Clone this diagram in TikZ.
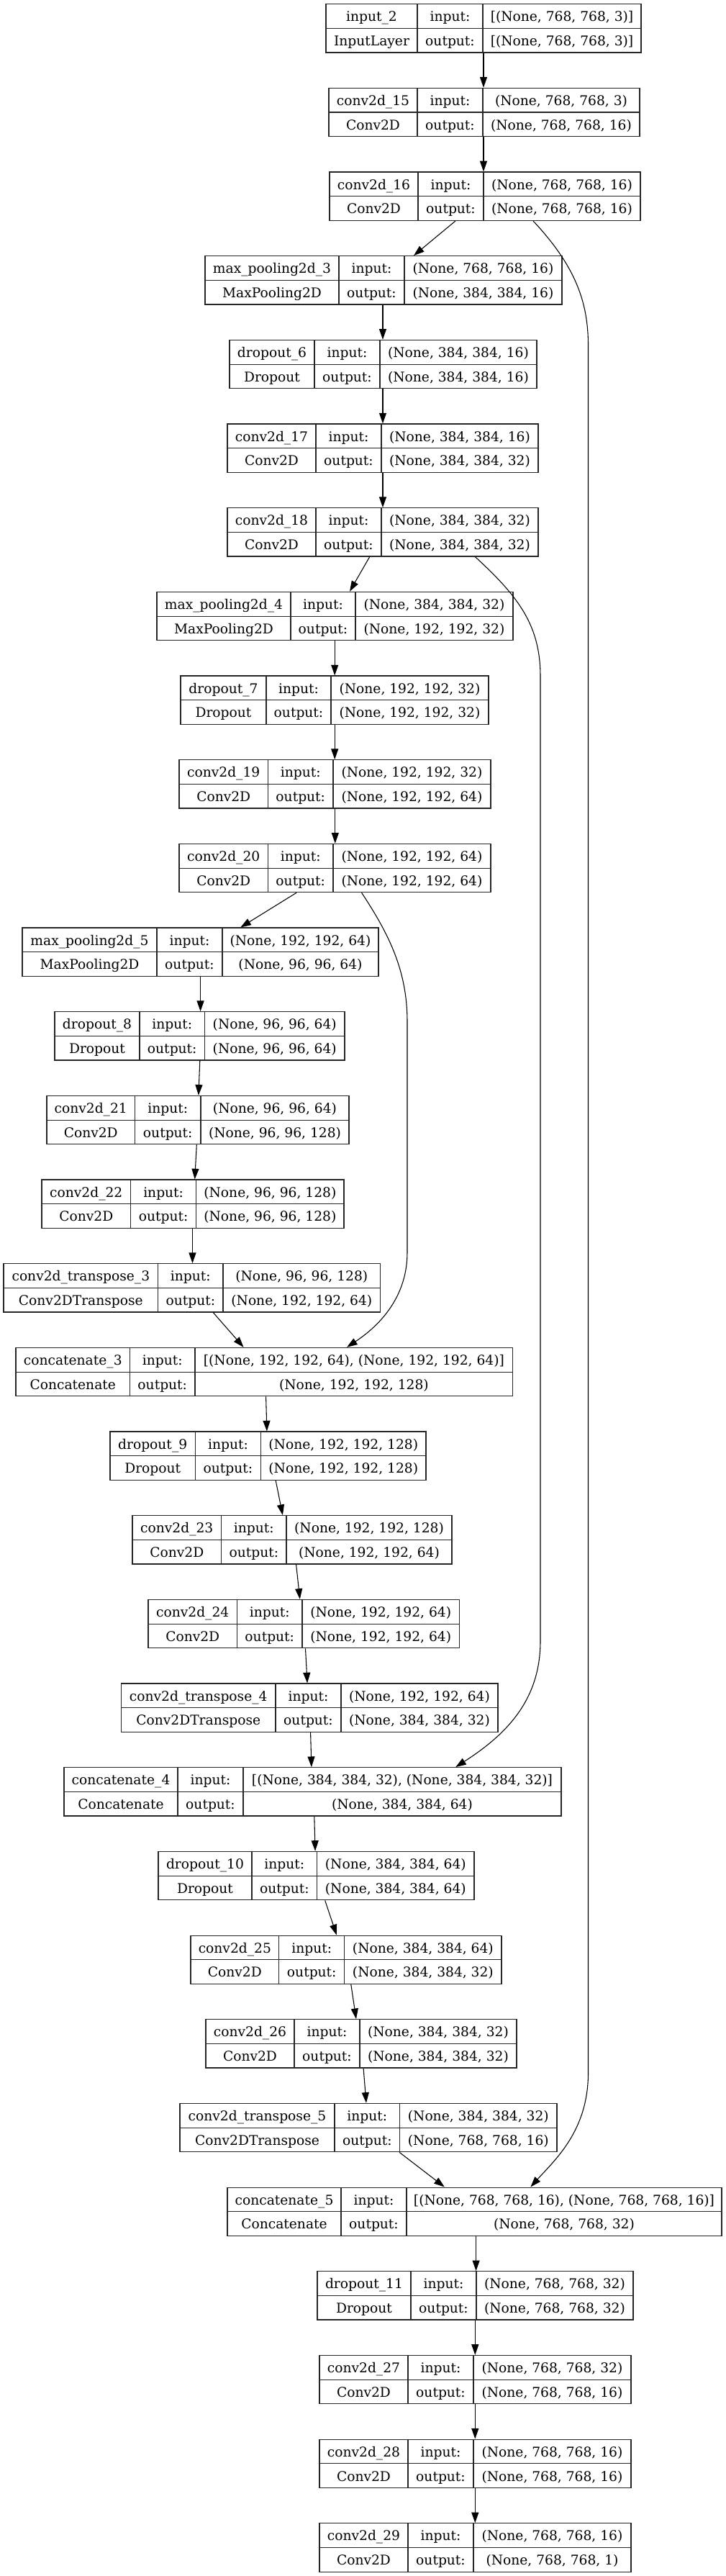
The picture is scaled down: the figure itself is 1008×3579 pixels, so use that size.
\documentclass[tikz,border=0pt]{standalone}
\usepackage{fontspec}
\setmainfont{DejaVu Serif}
\usetikzlibrary{arrows.meta,fit,calc}

% one layer table: id, row, left, divider 1, divider 2, right, name, type, input / output shape
\newcommand{\layer}[9]{%
  \def\lid{#1}\pgfmathsetmacro\ltop{5.7+116.67*#2}%
  \def\lL{#3}\def\lA{#4}\def\lB{#5}\def\lR{#6}%
  \def\lname{#7}\def\ltype{#8}\def\lin{#9}\layerout}
\newcommand{\layerout}[1]{%
  \pgfmathsetmacro\lmid{\ltop+33.65}\pgfmathsetmacro\lbot{\ltop+67.3}%
  \pgfmathsetmacro\lrowa{\ltop+16.8}\pgfmathsetmacro\lrowb{\ltop+50.5}%
  \coordinate (\lid-nw) at (\lL,\ltop);
  \coordinate (\lid-se) at (\lR,\lbot);
  \node[lbox, fit=(\lid-nw)(\lid-se)] (\lid) {};
  \draw[cellline] (\lL,\lmid) -- (\lR,\lmid) (\lA,\ltop) -- (\lA,\lbot) (\lB,\ltop) -- (\lB,\lbot);
  \node[ctext] (\lid-name) at ({(\lL+\lA)/2},\lrowa) {\lname};
  \node[ctext] (\lid-type) at ({(\lL+\lA)/2},\lrowb) {\ltype};
  \node[ctext] (\lid-inl)  at ({(\lA+\lB)/2},\lrowa) {input:};
  \node[ctext] (\lid-outl) at ({(\lA+\lB)/2},\lrowb) {output:};
  \node[ctext] (\lid-in)   at ({(\lB+\lR)/2},\lrowa) {\lin};
  \node[ctext] (\lid-out)  at ({(\lB+\lR)/2},\lrowb) {#1};
}

\begin{document}
\begin{tikzpicture}[
    x=0.75pt, y=-0.75pt,
    lbox/.style={draw=black!85, line width=0.95pt, inner sep=0pt},
    cellline/.style={draw=black!85, line width=0.8pt},
    ctext/.style={inner sep=0pt, text height=11pt, text depth=0pt, font=\fontsize{14pt}{16pt}\selectfont},
    flow/.style={-{Triangle[length=11pt,width=7.5pt]}, line width=0.8pt}
]
    \useasboundingbox (0,0) rectangle (1008,3579);

    % Encoder
    \layer{in2}{0}{453}{580}{671}{891}{input\_2}{InputLayer}{[(None, 768, 768, 3)]}{[(None, 768, 768, 3)]}
    \layer{c15}{1}{457}{580}{671}{889}{conv2d\_15}{Conv2D}{(None, 768, 768, 3)}{(None, 768, 768, 16)}
    \layer{c16}{2}{458}{581}{672}{890}{conv2d\_16}{Conv2D}{(None, 768, 768, 16)}{(None, 768, 768, 16)}
    \layer{mp3}{3}{285}{471}{562}{781}{max\_pooling2d\_3}{MaxPooling2D}{(None, 768, 768, 16)}{(None, 384, 384, 16)}
    \layer{dr6}{4}{319}{437}{528}{746}{dropout\_6}{Dropout}{(None, 384, 384, 16)}{(None, 384, 384, 16)}
    \layer{c17}{5}{316}{439}{530}{748}{conv2d\_17}{Conv2D}{(None, 384, 384, 16)}{(None, 384, 384, 32)}
    \layer{c18}{6}{316}{439}{530}{748}{conv2d\_18}{Conv2D}{(None, 384, 384, 32)}{(None, 384, 384, 32)}
    \layer{mp4}{7}{218}{404}{494}{713}{max\_pooling2d\_4}{MaxPooling2D}{(None, 384, 384, 32)}{(None, 192, 192, 32)}
    \layer{dr7}{8}{251}{370}{460}{679}{dropout\_7}{Dropout}{(None, 192, 192, 32)}{(None, 192, 192, 32)}
    \layer{c19}{9}{249}{372.5}{463}{682}{conv2d\_19}{Conv2D}{(None, 192, 192, 32)}{(None, 192, 192, 64)}
    \layer{c20}{10}{249}{372.5}{463}{682}{conv2d\_20}{Conv2D}{(None, 192, 192, 64)}{(None, 192, 192, 64)}
    \layer{mp5}{11}{31}{218}{309}{526}{max\_pooling2d\_5}{MaxPooling2D}{(None, 192, 192, 64)}{(None, 96, 96, 64)}
    \layer{dr8}{12}{76}{194}{284.5}{479}{dropout\_8}{Dropout}{(None, 96, 96, 64)}{(None, 96, 96, 64)}
    \layer{c21}{13}{65}{187.5}{279}{485}{conv2d\_21}{Conv2D}{(None, 96, 96, 64)}{(None, 96, 96, 128)}
    \layer{c22}{14}{58}{181.6}{272.7}{478}{conv2d\_22}{Conv2D}{(None, 96, 96, 128)}{(None, 96, 96, 128)}

    % Decoder
    \layer{ct3}{15}{5}{219.7}{310}{528.6}{conv2d\_transpose\_3}{Conv2DTranspose}{(None, 96, 96, 128)}{(None, 192, 192, 64)}
    \layer{cat3}{16}{22}{180.5}{271}{712.8}{concatenate\_3}{Concatenate}{[(None, 192, 192, 64), (None, 192, 192, 64)]}{(None, 192, 192, 128)}
    \layer{dr9}{17}{153}{271.4}{362.5}{592}{dropout\_9}{Dropout}{(None, 192, 192, 128)}{(None, 192, 192, 128)}
    \layer{c23}{18}{184}{307.6}{398}{628}{conv2d\_23}{Conv2D}{(None, 192, 192, 128)}{(None, 192, 192, 64)}
    \layer{c24}{19}{206}{329.5}{420}{638.4}{conv2d\_24}{Conv2D}{(None, 192, 192, 64)}{(None, 192, 192, 64)}
    \layer{ct4}{20}{168.5}{383}{474}{692}{conv2d\_transpose\_4}{Conv2DTranspose}{(None, 192, 192, 64)}{(None, 384, 384, 32)}
    \layer{cat4}{21}{89}{247}{338}{780}{concatenate\_4}{Concatenate}{[(None, 384, 384, 32), (None, 384, 384, 32)]}{(None, 384, 384, 64)}
    \layer{dr10}{22}{220}{350}{440.7}{659}{dropout\_10}{Dropout}{(None, 384, 384, 64)}{(None, 384, 384, 64)}
    \layer{c25}{23}{265}{387.7}{478.8}{697}{conv2d\_25}{Conv2D}{(None, 384, 384, 64)}{(None, 384, 384, 32)}
    \layer{c26}{24}{286}{409}{500}{718}{conv2d\_26}{Conv2D}{(None, 384, 384, 32)}{(None, 384, 384, 32)}
    \layer{ct5}{25}{250}{465}{555.6}{774}{conv2d\_transpose\_5}{Conv2DTranspose}{(None, 384, 384, 32)}{(None, 768, 768, 16)}
    \layer{cat5}{26}{316}{474}{565}{1003}{concatenate\_5}{Concatenate}{[(None, 768, 768, 16), (None, 768, 768, 16)]}{(None, 768, 768, 32)}
    \layer{dr11}{27}{441}{571}{662}{880}{dropout\_11}{Dropout}{(None, 768, 768, 32)}{(None, 768, 768, 32)}
    \layer{c27}{28}{444}{567}{658}{877}{conv2d\_27}{Conv2D}{(None, 768, 768, 32)}{(None, 768, 768, 16)}
    \layer{c28}{29}{444}{567}{658}{877}{conv2d\_28}{Conv2D}{(None, 768, 768, 16)}{(None, 768, 768, 16)}
    \layer{c29}{30}{444}{567}{658}{877}{conv2d\_29}{Conv2D}{(None, 768, 768, 16)}{(None, 768, 768, 1)}

    % Main chain
    \draw[flow] (672,0 |- in2.south) -- (672,0 |- c15.north);
    \draw[flow] (672,0 |- c15.south) -- (672,0 |- c16.north);
    \draw[flow] (633,0 |- c16.south) -- (575,0 |- mp3.north);
    \draw[flow] (532,0 |- mp3.south) -- (532,0 |- dr6.north);
    \draw[flow] (532,0 |- dr6.south) -- (532,0 |- c17.north);
    \draw[flow] (532,0 |- c17.south) -- (532,0 |- c18.north);
    \draw[flow] (513.7,0 |- c18.south) -- (486,0 |- mp4.north);
    \draw[flow] (465.2,0 |- mp4.south) -- (465.2,0 |- dr7.north);
    \draw[flow] (465.2,0 |- dr7.south) -- (465.2,0 |- c19.north);
    \draw[flow] (465.8,0 |- c19.south) -- (465.8,0 |- c20.north);
    \draw[flow] (412,0 |- c20.south) -- (334.3,0 |- mp5.north);
    \draw[flow] (278.6,0 |- mp5.south) -- (278.6,0 |- dr8.north);
    \draw[flow] (277.8,0 |- dr8.south) -- (275.9,0 |- c21.north);
    \draw[flow] (273.3,0 |- c21.south) -- (270.7,0 |- c22.north);
    \draw[flow] (267.5,0 |- c22.south) -- (267.5,0 |- ct3.north);
    \draw[flow] (296.4,0 |- ct3.south) -- (338.5,0 |- cat3.north);
    \draw[flow] (369.6,0 |- cat3.south) -- (370.9,0 |- dr9.north);
    \draw[flow] (383.2,0 |- dr9.south) -- (392.9,0 |- c23.north);
    \draw[flow] (411.6,0 |- c23.south) -- (416.8,0 |- c24.north);
    \draw[flow] (424.5,0 |- c24.south) -- (427.1,0 |- ct4.north);
    \draw[flow] (431.6,0 |- ct4.south) -- (432.9,0 |- cat4.north);
    \draw[flow] (436.8,0 |- cat4.south) -- (438.1,0 |- dr10.north);
    \draw[flow] (451.7,0 |- dr10.south) -- (467.8,0 |- c25.north);
    \draw[flow] (487.8,0 |- c25.south) -- (495,0 |- c26.north);
    \draw[flow] (505.1,0 |- c26.south) -- (509,0 |- ct5.north);
    \draw[flow] (555.2,0 |- ct5.south) -- (617.8,0 |- cat5.north);
    \draw[flow] (661.6,0 |- cat5.south) -- (661.6,0 |- dr11.north);
    \draw[flow] (660.3,0 |- dr11.south) -- (660.3,0 |- c27.north);
    \draw[flow] (660.3,0 |- c27.south) -- (660.3,0 |- c28.north);
    \draw[flow] (660.3,0 |- c28.south) -- (660.3,0 |- c29.north);

    % Skip connections
    \draw[flow] (741,0 |- c16.south) .. controls (800,370) and (817.5,420) .. (817.5,480)
        -- (817.5,2880) .. controls (817.5,2960) and (772,3000) .. (737.4,0 |- cat5.north);
    \draw[flow] (660.4,0 |- c18.south) .. controls (722,830) and (751,870) .. (751,940)
        -- (751,2280) .. controls (751,2365) and (700,2412) .. (633.2,0 |- cat4.north);
    \draw[flow] (502.6,0 |- c20.south) .. controls (542,1300) and (566,1350) .. (566,1420)
        -- (566,1740) .. controls (566,1800) and (530,1840) .. (482,0 |- cat3.north);
\end{tikzpicture}
\end{document}
